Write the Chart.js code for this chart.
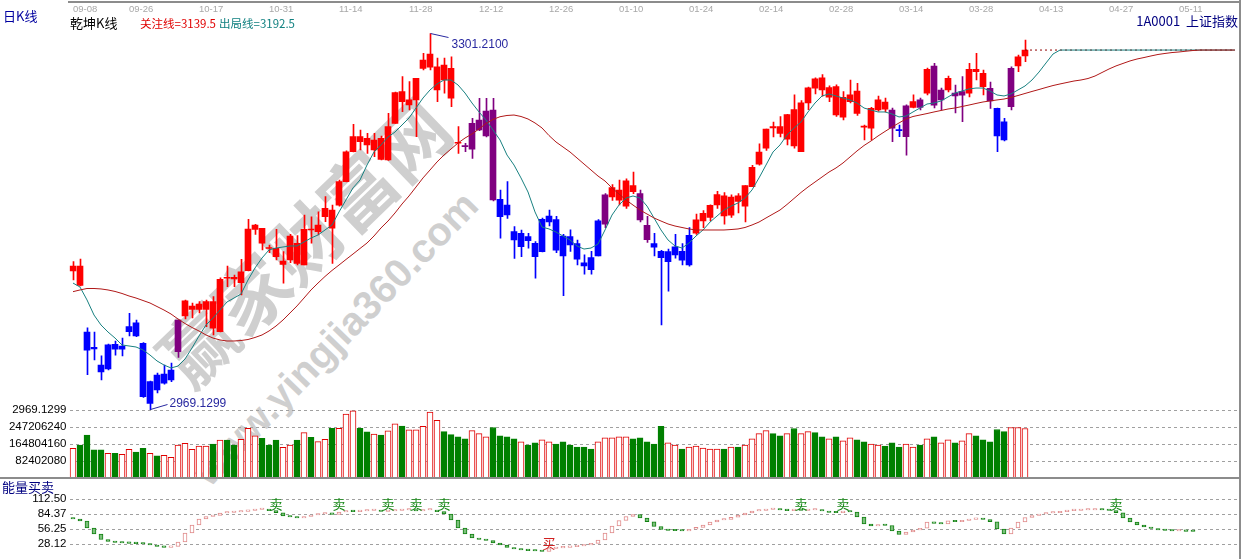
<!DOCTYPE html>
<html><head><meta charset="utf-8">
<script src="https://cdn.jsdelivr.net/npm/chart.js@4.4.1/dist/chart.umd.min.js"></script>
<style>
html,body{margin:0;padding:0;background:#fff;}
body{width:1245px;height:559px;position:relative;overflow:hidden;font-family:"Noto Sans CJK SC","DejaVu Sans",sans-serif;}
canvas{position:absolute;left:0;}
.t{position:absolute;white-space:nowrap;line-height:14px;}
.frame{position:absolute;background:#8c8c8c;}
.wm{position:absolute;white-space:nowrap;color:#cfcfcf;font-weight:bold;transform-origin:center center;}
</style></head><body>
<div class="wm" style="left:102px;top:192px;width:400px;text-align:center;font-size:74px;line-height:96px;transform:rotate(-44deg);font-family:'Noto Sans CJK SC'">赢家财富网</div>
<div class="wm" style="left:135px;top:310px;width:400px;text-align:center;font-size:40px;line-height:56px;transform:rotate(-46deg);font-family:'Liberation Sans',Arial">www.yingjia360.com</div>
<canvas id="cMain" width="1245" height="420" style="top:0"></canvas>
<canvas id="cVol" width="1245" height="80" style="top:400px"></canvas>
<canvas id="cEng" width="1245" height="80" style="top:479px"></canvas>
<div class="frame" style="left:68px;top:1px;width:1173px;height:2px"></div>
<div class="frame" style="left:1239px;top:0;width:2px;height:559px"></div>
<div class="frame" style="left:0;top:477px;width:1241px;height:2px"></div>
<div class="t" style="left:3px;top:9px;font-size:13px;color:#0000a0">日K线</div>
<div class="t" style="left:70px;top:16px;font-size:13px;color:#000">乾坤K线</div>
<div class="t" style="left:140px;top:16px;font-size:11.5px;color:#e00000">关注线=3139.5</div>
<div class="t" style="left:219px;top:16px;font-size:11.5px;color:#108080">出局线=3192.5</div>
<div class="t" style="right:7px;top:14px;font-size:13px;color:#000080">1A0001&nbsp;&nbsp;上证指数</div>
<div class="t" style="left:2px;top:480px;font-size:13px;color:#000080">能量买卖</div>
<script>
// ---------- data ----------
const SLOTS = 167; // 137 trading days + projection slots
const xTickSlots  = [0,8,18,28,38,48,58,68,78,88,98,108,118,128,138,148,158];
const xTickLabels = ['09-08','09-26','10-17','10-31','11-14','11-28','12-12','12-26','01-10','01-24','02-14','02-28','03-14','03-28','04-13','04-27','05-11'];

const open = [3091.7,3096.0,3037.9,3023.0,3008.8,3005.3,3027.1,3022.7,3038.2,3046.1,
 3028.0,2975.0,2999.9,2992.7,2995.6,3020.5,3052.0,3060.8,3057.9,3057.9,
 3064.7,3038.2,3085.8,3086.2,3081.4,3092.0,3128.5,3129.4,3111.6,3111.8,
 3097.6,3101.4,3116.2,3097.0,3128.5,3126.4,3139.6,3145.5,3149.9,3170.5,
 3196.9,3210.2,3208.8,3198.5,3208.8,3189.6,3222.0,3249.9,3238.2,3242.6,
 3270.5,3271.4,3271.9,3260.2,3270.5,3205.3,3202.2,3199.1,3224.9,3210.8,
 3233.7,3139.6,3149.9,3126.4,3113.2,3122.0,3116.2,3108.7,3135.0,3137.0,
 3105.0,3122.0,3116.0,3099.0,3093.0,3105.0,3133.0,3157.0,3163.0,3149.0,
 3167.0,3160.0,3132.0,3116.0,3109.0,3100.0,3106.0,3109.0,3097.0,3125.0,
 3136.0,3139.0,3150.0,3158.0,3141.0,3158.0,3149.0,3166.0,3186.0,3200.0,
 3219.0,3219.0,3208.0,3234.0,3197.0,3240.0,3253.0,3262.0,3245.0,3254.3,
 3227.3,3241.0,3250.5,3218.6,3217.6,3233.7,3234.4,3233.7,3216.5,3210.2,
 3236.1,3242.6,3248.5,3272.5,3242.6,3251.4,3248.7,3246.9,3248.5,3269.6,
 3266.1,3252.9,3235.2,3207.3,3236.6,3272.5,3281.4];
const high = [3100.0,3102.3,3041.5,3037.9,3016.8,3027.3,3030.0,3032.6,3054.4,3048.5,
 3028.5,2994.7,3001.7,3008.8,3010.6,3048.5,3066.1,3063.5,3064.7,3066.1,
 3069.1,3085.6,3096.1,3088.2,3102.0,3137.3,3133.0,3129.4,3114.6,3128.5,
 3108.8,3124.0,3123.0,3141.1,3139.6,3144.0,3157.3,3149.9,3172.0,3197.8,
 3221.1,3216.1,3213.2,3213.2,3210.8,3230.8,3249.6,3263.1,3258.7,3261.7,
 3283.7,3301.21,3279.6,3279.6,3280.7,3219.0,3204.4,3226.4,3244.0,3244.0,
 3244.0,3163.2,3170.5,3130.8,3127.9,3125.0,3117.6,3138.5,3145.5,3140.0,
 3124.0,3128.0,3119.0,3106.0,3109.0,3137.0,3160.0,3168.0,3172.0,3173.0,
 3179.0,3163.0,3140.0,3125.0,3110.0,3111.0,3124.0,3116.0,3130.0,3142.0,
 3145.0,3150.0,3162.0,3161.0,3159.0,3160.0,3167.0,3185.0,3204.0,3217.0,
 3223.0,3228.0,3230.0,3247.0,3242.0,3254.0,3262.0,3265.0,3255.0,3256.0,
 3250.0,3260.2,3257.3,3220.5,3236.0,3246.0,3244.3,3235.5,3220.5,3238.2,
 3247.0,3244.3,3270.8,3274.9,3253.1,3263.7,3255.8,3263.1,3274.9,3283.7,
 3269.0,3258.4,3235.5,3226.4,3271.7,3282.2,3295.5];
const low = [3083.8,3078.5,3000.4,3013.2,2995.6,3004.4,3017.6,3016.8,3034.4,3033.8,
 2980.2,2969.1299,2984.1,2992.0,2994.1,3015.6,3049.4,3050.3,3054.7,3042.6,
 3035.3,3037.9,3077.9,3077.9,3070.6,3091.7,3124.0,3110.3,3107.9,3101.4,
 3080.9,3099.0,3097.0,3097.0,3116.2,3123.5,3135.2,3098.5,3149.0,3170.2,
 3196.7,3198.5,3195.5,3192.5,3189.6,3189.2,3221.8,3232.2,3233.8,3210.2,
 3269.0,3269.0,3241.1,3248.5,3236.6,3195.5,3197.0,3191.1,3215.6,3210.0,
 3153.5,3120.6,3138.2,3102.9,3104.3,3111.8,3085.3,3108.5,3131.4,3108.0,
 3070.0,3109.0,3097.0,3089.0,3089.0,3105.0,3130.0,3154.0,3150.0,3147.0,
 3160.0,3135.0,3117.0,3105.0,3044.2,3074.0,3103.0,3097.0,3096.0,3124.0,
 3130.0,3136.0,3147.0,3133.0,3139.0,3143.0,3135.0,3166.0,3185.0,3198.0,
 3210.0,3210.0,3203.0,3200.0,3197.0,3234.0,3248.0,3246.0,3241.0,3228.0,
 3225.0,3240.0,3229.0,3207.3,3207.3,3232.8,3232.0,3205.8,3210.2,3194.0,
 3235.5,3233.7,3247.0,3235.5,3233.7,3249.6,3231.1,3223.4,3245.2,3260.2,
 3247.0,3235.2,3197.0,3206.4,3233.7,3267.5,3276.3];
const close = [3096.0,3079.0,3022.0,3024.5,3002.7,3026.5,3022.7,3025.6,3042.6,3034.4,
 2980.9,2994.1,2986.8,3000.9,3004.4,3048.5,3065.5,3057.9,3062.6,3064.7,
 3041.2,3084.4,3085.3,3084.7,3091.1,3128.8,3132.3,3116.2,3112.2,3104.3,
 3100.5,3122.6,3098.5,3128.5,3127.9,3132.3,3147.0,3129.4,3170.5,3196.9,
 3210.2,3205.8,3202.9,3207.3,3190.2,3219.0,3249.0,3241.1,3242.6,3261.7,
 3277.8,3283.1,3251.4,3273.4,3244.1,3204.4,3201.4,3222.0,3216.1,3232.8,
 3154.4,3155.0,3141.1,3119.1,3125.0,3118.5,3104.3,3137.3,3140.2,3110.2,
 3122.6,3114.7,3102.2,3096.1,3103.6,3135.9,3158.8,3165.4,3154.3,3171.2,
 3161.7,3136.8,3119.3,3112.8,3103.4,3108.8,3113.0,3101.3,3123.1,3136.8,
 3142.6,3149.6,3159.2,3140.2,3157.0,3153.1,3167.0,3183.2,3196.7,3216.8,
 3217.9,3213.0,3229.6,3202.1,3240.0,3253.3,3261.2,3251.4,3253.4,3229.3,
 3245.0,3247.0,3230.8,3219.6,3235.2,3242.6,3240.7,3217.6,3215.5,3237.3,
 3241.1,3236.1,3269.6,3238.1,3251.4,3261.7,3246.1,3249.9,3269.6,3267.5,
 3254.3,3241.7,3210.8,3223.4,3270.5,3280.7,3286.6];
// 乾坤K线 colour state per day: R red, B blue, P purple
const kColor = ('RR'+'BBBBBBBBBBBBB'+'P'+'RRRRRRRRRRRRRRRRRRRRRRRRRRRRRRRRRRRRRRRR'+'PPPPP'+
  'BBBBBBBBBBBBBBB'+'P'+'RRRR'+'PP'+'BBBBBB'+'RRRRRRRRRRRRRRRRRRRRRRRRRRRR'+'PBPRPRPPRPPRRRPBBPRR').split('');

// 关注线 (slow) and 出局线 (fast), including projection slots
const guanzhu = [3073.5,3075.0,3076.3,3076.3,3075.9,3075.0,3073.7,3071.9,3069.7,3067.9,
 3065.7,3063.5,3060.4,3057.3,3053.8,3049.4,3045.4,3041.9,3038.8,3035.3,
 3032.6,3030.9,3030.0,3030.0,3030.4,3031.3,3033.1,3035.3,3038.8,3043.2,
 3048.5,3054.7,3060.9,3067.9,3075.0,3081.1,3086.9,3092.2,3097.0,3101.9,
 3106.7,3111.6,3116.4,3122.6,3129.7,3135.8,3142.9,3150.8,3157.9,3165.8,
 3173.8,3180.8,3187.9,3194.0,3199.3,3204.6,3209.0,3212.6,3217.0,3221.8,
 3225.4,3227.8,3228.9,3229.3,3228.0,3225.8,3222.3,3217.9,3211.2,3205.5,
 3201.1,3196.7,3191.4,3186.1,3180.8,3175.5,3171.1,3165.0,3159.6,3154.4,
 3149.9,3145.5,3142.0,3138.5,3135.8,3133.2,3131.4,3130.1,3128.8,3127.9,
 3127.9,3127.9,3127.9,3127.9,3128.3,3128.8,3130.1,3132.3,3134.9,3138.5,
 3142.0,3145.5,3150.4,3155.7,3161.0,3165.8,3170.2,3174.6,3179.0,3182.6,
 3187.0,3192.3,3197.6,3202.4,3206.4,3210.8,3214.8,3218.7,3222.3,3225.8,
 3228.0,3229.3,3230.6,3232.0,3233.3,3234.6,3235.5,3236.8,3238.1,3239.5,
 3240.8,3241.7,3242.6,3243.4,3244.8,3246.5,3248.3,3250.1,3251.8,3253.6,
 3255.3,3256.7,3258.0,3259.3,3260.2,3261.5,3263.7,3266.8,3269.9,3272.6,
 3274.8,3277.0,3278.7,3280.0,3281.4,3282.7,3283.6,3284.4,3284.9,3285.6,
 3286.2,3286.6,3286.6,3286.6,3286.6,3286.6,3286.6];
const chuju = [3081.1,3077.6,3066.2,3052.9,3044.1,3037.9,3032.6,3026.5,3025.6,3024.7,
 3022.1,3017.6,3012.4,3008.8,3006.2,3007.9,3014.1,3023.8,3034.4,3044.1,
 3050.3,3057.3,3064.4,3067.9,3071.4,3083.8,3094.4,3103.2,3110.3,3112.0,
 3112.9,3113.8,3113.8,3117.3,3120.8,3123.5,3127.9,3132.3,3143.8,3154.4,
 3165.0,3172.0,3185.2,3196.7,3202.9,3209.9,3214.3,3220.5,3226.7,3235.5,
 3244.3,3251.4,3256.7,3260.2,3260.2,3255.8,3248.7,3239.9,3232.0,3224.9,
 3216.1,3207.3,3194.0,3185.2,3173.8,3161.4,3143.8,3130.5,3128.8,3126.1,
 3122.6,3119.1,3113.8,3111.1,3112.0,3115.5,3127.9,3141.1,3149.9,3156.1,
 3157.9,3156.1,3149.0,3138.5,3127.9,3119.1,3113.8,3112.0,3116.4,3122.6,
 3127.9,3134.9,3140.2,3145.5,3149.0,3151.7,3156.1,3163.2,3173.8,3185.2,
 3196.7,3202.9,3211.7,3217.9,3223.1,3232.0,3239.9,3246.1,3247.9,3246.1,
 3244.3,3242.6,3239.9,3235.5,3233.7,3232.0,3232.0,3230.2,3227.6,3228.4,
 3232.0,3235.5,3239.0,3239.9,3241.7,3245.2,3248.7,3250.5,3252.3,3253.1,
 3253.1,3250.5,3247.0,3246.1,3247.9,3251.4,3254.9,3260.2,3267.2,3275.2,
 3283.1,3286.6,3286.6,3286.6,3286.6,3286.6,3286.6,3286.6,3286.6,3286.6,
 3286.6,3286.6,3286.6,3286.6,3286.6,3286.6,3286.6,3286.6,3286.6,3286.6,
 3286.6,3286.6,3286.6,3286.6,3286.6,3286.6,3286.6];

// volume, millions of shares; R = hollow red, G = solid green
const volumeM = [144,160,208,136,136,120,120,115,139,126, 144,120,107,110,100,160,168,139,155,155,
 165,184,184,160,188,241,204,192,160,184, 149,160,184,220,197,176,188,241,241,310,
 326,241,224,213,208,229,262,252,233,233, 250,320,280,225,210,200,190,230,215,200,
 245,205,200,190,175,160,170,185,175,165, 175,160,150,150,140,175,195,195,200,200,
 190,195,175,165,250,170,160,140,150,155, 145,140,140,140,150,150,160,190,215,230,
 215,205,215,240,215,225,220,200,190,200, 180,195,185,175,165,160,155,170,150,165,
 150,160,190,200,170,185,170,180,215,205, 185,175,235,225,245,245,240];
const volColor = ('RGGGGRGRRG'+'GRGRRRRRRR'+'GRGGRRRGGG'+'RRGRGRRGRR'+'RGGRGRRGRR'+
 'RRRGGGGRRR'+'GGGGRGGRRG'+'GGGGGRRRRR'+'GGGGGRRGRR'+'RRRGRGRRRR'+'GGRGRRGGRG'+
 'RRGGRRGGGR'+'RGRGRRGRRG'+'GGGGRRR').split('');
const volTicks = [82402080,164804160,247206240];
const volMax = 329608320;

// 能量买卖 indicator, including projection slots
const energy = [75.0,71.3,58.1,46.9,36.6,32.8,30.9,30.0,29.4,28.9,
 28.1,26.3,23.4,21.9,23.4,31.9,48.8,63.8,75.0,79.7,
 81.6,86.3,87.2,88.1,89.4,90.9,92.8,93.8,90.6,86.8,
 80.6,78.8,76.9,79.7,82.5,84.4,85.3,83.8,88.1,90.0,
 88.7,90.0,90.9,91.9,89.1,90.0,90.9,91.9,91.9,90.0,
 91.9,91.9,88.7,84.4,73.1,58.1,46.9,39.4,36.6,34.7,
 30.0,26.3,21.6,18.8,16.9,15.6,15.0,14.1,19.7,21.0,
 21.9,23.1,24.4,26.3,29.4,35.6,48.8,61.9,72.2,79.7,
 83.4,76.9,69.9,60.9,55.3,53.4,52.9,52.5,55.7,59.4,
 63.8,69.4,73.1,74.4,78.2,82.5,86.3,90.0,90.9,92.8,
 93.2,91.9,90.6,92.8,90.9,91.9,92.8,90.0,87.2,86.8,
 90.0,88.1,78.8,65.6,61.9,63.8,62.8,52.5,45.9,50.6,
 54.4,57.6,69.4,66.9,65.6,71.8,69.9,72.2,74.4,76.3,
 74.1,69.9,56.3,46.9,58.1,69.4,77.8,81.6,84.4,86.3,
 86.8,88.7,90.6,90.9,91.9,91.9,93.2,91.9,90.9,86.8,
 76.9,69.4,63.8,60.0,57.2,54.4,53.4,52.5,52.5,51.9,
 51.6];
const energyTicks = [28.125,56.25,84.375,112.5];
const sellSignals = [29,38,45,49,53,104,110,149];
const buySignals = [68];
const sellLevel = 103, buyLevel = 30;

// ---------- chart helpers ----------
Chart.defaults.animation = false;
Chart.defaults.devicePixelRatio = 1;
Chart.defaults.plugins.legend.display = false;
Chart.defaults.plugins.tooltip.enabled = false;
Chart.defaults.font.family = '"Liberation Sans", Arial, sans-serif';

const axisFont = {family:'"Liberation Sans", Arial, sans-serif', size:11.5};
function xAxis(display){
  return {type:'linear', min:-0.5, max:SLOTS-0.5, display, position:'top', offset:false, bounds:'ticks',
    grid:{display:false, drawTicks:false, offset:false}, border:{display:false},
    afterBuildTicks: s => { s.ticks = xTickSlots.map(v => ({value:v})); },
    ticks:{autoSkip:false, maxRotation:0, align:'start', padding:3, color:'#a8a8a8',
      font:{family:'"Liberation Sans Narrow","Liberation Sans",sans-serif', size:9.5},
      callback: v => { const k = xTickSlots.indexOf(v); return k >= 0 ? xTickLabels[k] : ''; }},
    afterFit: s => { if (display) { s.height = 18; } else { s.height = 0; s.width = 0; } s.paddingLeft = 0; s.paddingRight = 0; }
  };
}
function yAxis(min, max, ticks, fmt, showGrid){
  return {position:'left', min, max,
    afterBuildTicks: s => { s.ticks = ticks.map(v => ({value:v})); },
    ticks:{color:'#000', font:axisFont, padding:3, callback: fmt},
    grid:{display:showGrid, color:'#a0a0a0', lineWidth:1, drawTicks:false},
    border:{display:false, dash:[3,3]},
    afterFit: s => { s.width = 69.5; s.paddingTop = 0; s.paddingBottom = 0; }
  };
}
const kFill = {R:'#ff0000', B:'#0000ff', P:'#800080'};

// ---------- main chart ----------
const lowest = Math.min(...low), highest = Math.max(...high);
const pxPerPt = 0.882; // vertical scale of the price panel
const priceMin = lowest, priceMax = lowest + 392 * pxPerPt;
const idx = open.map((_, i) => i);

const annotate = {
  id:'annotate',
  afterDatasetsDraw(chart){
    const {ctx, scales:{x, y}} = chart;
    const hiI = high.indexOf(highest), loI = low.indexOf(lowest);
    ctx.save();
    ctx.strokeStyle = '#2828a0'; ctx.fillStyle = '#2828a0'; ctx.lineWidth = 1;
    ctx.font = '12px "Liberation Sans", Arial'; ctx.textBaseline = 'middle';
    let px = Math.round(x.getPixelForValue(hiI)) + 0.5, py = Math.round(y.getPixelForValue(highest)) + 0.5;
    ctx.beginPath(); ctx.moveTo(px, py); ctx.lineTo(px + 18, py + 4); ctx.stroke();
    ctx.fillText(highest.toFixed(4), px + 21, py + 11);
    px = Math.round(x.getPixelForValue(loI)) + 0.5; py = Math.round(y.getPixelForValue(lowest)) - 0.5;
    ctx.beginPath(); ctx.moveTo(px, py); ctx.lineTo(px + 17, py - 5); ctx.stroke();
    ctx.fillText(lowest.toFixed(4), px + 19, py - 6);
    ctx.restore();
  }
};

new Chart(document.getElementById('cMain'), {
  type:'bar',
  data:{datasets:[
    {type:'line', label:'关注线', order:0, data: guanzhu.map((v,i)=>({x:i,y:v})),
      borderColor:'#b01818', borderWidth:1, pointRadius:0, tension:0},
    {type:'line', label:'出局线', order:0, data: chuju.map((v,i)=>({x:i,y:v})),
      borderColor:'#188080', borderWidth:1, pointRadius:0, tension:0},
    {type:'line', label:'proj', order:1, data: guanzhu.map((v,i)=> i >= close.length-1 ? {x:i, y:close[close.length-1]} : {x:i, y:null}),
      borderColor:'#900000', borderWidth:1, borderDash:[2,3], pointRadius:0, spanGaps:false},
    {label:'body', order:2, grouped:false, barThickness:6, minBarLength:1,
      data: idx.map(i => ({x:i, y:[Math.min(open[i],close[i]), Math.max(open[i],close[i])]})),
      backgroundColor: kColor.map(c => kFill[c]), borderWidth:0},
    {label:'wick', order:3, grouped:false, barThickness:1,
      data: idx.map(i => ({x:i + 0.5/7, y:[low[i], high[i]]})),
      backgroundColor: kColor.map(c => kFill[c]), borderWidth:0}
  ]},
  options:{responsive:false, layout:{padding:{left:0, right:6.5, top:0, bottom:10}},
    scales:{ x: xAxis(true),
      y: yAxis(priceMin, priceMax, [lowest], v => v.toFixed(4), true) }
  },
  plugins:[annotate]
});

// ---------- volume chart ----------
new Chart(document.getElementById('cVol'), {
  type:'bar',
  data:{datasets:[{label:'vol', barThickness:6, borderSkipped:false,
    data: volumeM.map((v,i)=>({x:i, y:v*1e6})),
    backgroundColor: volColor.map(c => c==='R' ? '#ffffff' : '#008000'),
    borderColor: volColor.map(c => c==='R' ? '#e00000' : '#008000'), borderWidth:1}]},
  options:{responsive:false, layout:{padding:{left:0, right:6.5, top:10, bottom:2}},
    scales:{ x: xAxis(false), y: yAxis(0, volMax, volTicks, v => String(v), true) }
  }
});

// ---------- energy chart ----------
const signals = {
  id:'signals',
  afterDatasetsDraw(chart){
    const {ctx, scales:{x, y}} = chart;
    ctx.save(); ctx.font = '13px "Noto Sans CJK SC"'; ctx.textAlign = 'center'; ctx.textBaseline = 'middle';
    ctx.fillStyle = '#188818';
    sellSignals.forEach(i => ctx.fillText('卖', x.getPixelForValue(i), y.getPixelForValue(sellLevel)));
    ctx.fillStyle = '#d02020';
    buySignals.forEach(i => ctx.fillText('买', x.getPixelForValue(i), y.getPixelForValue(buyLevel)));
    ctx.restore();
  }
};
const eDir = energy.map((v,i) => i === 0 || v < energy[i-1] ? 'down' : 'up');
new Chart(document.getElementById('cEng'), {
  type:'bar',
  data:{datasets:[{label:'energy', barThickness:4, minBarLength:1.5, borderSkipped:false,
    data: energy.map((v,i)=>({x:i, y:[i ? energy[i-1] : v, v]})),
    backgroundColor: eDir.map(d => d==='down' ? '#7cc07c' : '#ffffff'),
    borderColor: eDir.map(d => d==='down' ? '#108010' : '#e08a8a'), borderWidth:1}]},
  options:{responsive:false, layout:{padding:{left:0, right:6.5, top:0, bottom:0}},
    scales:{ x: xAxis(false),
      y: yAxis(0, 150, energyTicks, v => (Math.floor(v*100)/100).toFixed(2), true) }
  },
  plugins:[signals]
});
</script>
</body></html>
